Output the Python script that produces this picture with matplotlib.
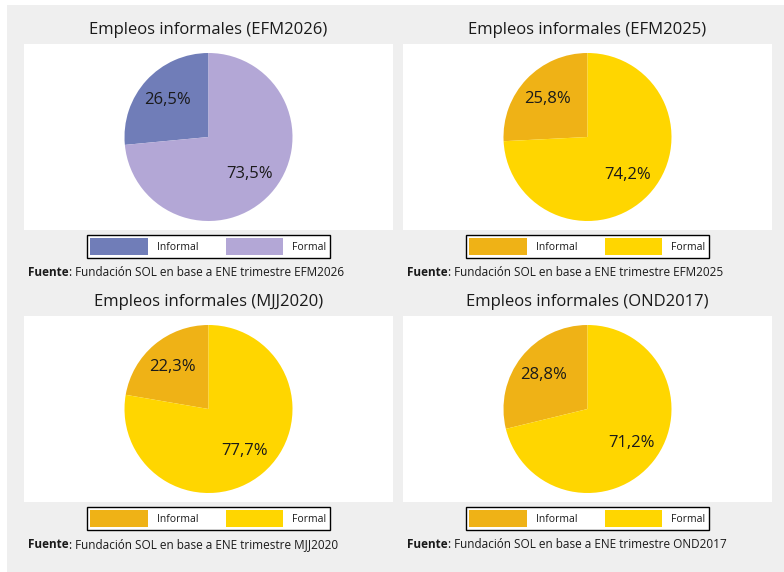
import matplotlib
matplotlib.use("Agg")
import matplotlib.pyplot as plt
from matplotlib.patches import Rectangle, Patch

plt.rcParams['font.family'] = ['Open Sans', 'DejaVu Sans']

# data
periods = ["EFM2026", "EFM2025", "MJJ2020", "OND2017"]
categories = ["Informal", "Formal"]
informal = [26.5, 25.8, 22.3, 28.8]
formal = [73.5, 74.2, 77.7, 71.2]

purple = ["#707db8", "#b3a7d6"]
yellow = ["#efb216", "#ffd600"]
palettes = [purple, yellow, yellow, yellow]

W, H = 784, 572
fig = plt.figure(figsize=(W / 100, H / 100), dpi=100)
fig.patch.set_facecolor("white")

# gray background block
fig.patches.append(Rectangle((7 / W, 0), 1 - 7 / W, 1 - 5 / H, transform=fig.transFigure,
                             facecolor="#efefef", edgecolor="none", zorder=-10))

# panel boxes in pixels (left, top)
lefts = [24, 403, 24, 403]
tops = [44, 44, 316, 316]
pw, ph = 369, 186
radius_px = 84


def fmt_pct(p):
    return f"{p:.1f}".replace(".", ",") + "%"


for i, per in enumerate(periods):
    left, top = lefts[i], tops[i]
    ax = fig.add_axes([left / W, 1 - (top + ph) / H, pw / W, ph / H])
    vals = [informal[i], formal[i]]
    cols = palettes[i]
    ax.pie(vals, colors=cols, startangle=90, counterclock=True,
           autopct=fmt_pct, pctdistance=0.66,
           wedgeprops=dict(linewidth=0),
           textprops=dict(fontsize=12, color="#1a1a1a"))
    ax.set_xlim(-pw / 2 / radius_px, pw / 2 / radius_px)
    ax.set_ylim(-ph / 2 / radius_px, ph / 2 / radius_px)
    ax.set_aspect("auto")
    ax.set_frame_on(True)
    ax.patch.set_visible(True)
    ax.set_facecolor("white")
    ax.set_xticks([])
    ax.set_yticks([])
    for s in ax.spines.values():
        s.set_visible(False)

    cx = (left + pw / 2) / W
    # title
    fig.text(cx, 1 - (top - 14) / H, f"Empleos informales ({per})", ha="center", va="center",
             fontsize=12, color="#1a1a1a")

    # legend
    handles = [Patch(facecolor=c, edgecolor="none") for c in cols]
    leg = fig.legend(handles, categories, loc="center", ncol=2,
                     bbox_to_anchor=(cx, 1 - (top + ph + 16.5) / H),
                     fontsize=7.5, handlelength=5.5, handleheight=2.0,
                     handletextpad=0.9, columnspacing=2.6, borderpad=0.3,
                     fancybox=False, framealpha=1)
    leg.get_frame().set_edgecolor("black")
    leg.get_frame().set_linewidth(1.0)
    for t in leg.get_texts():
        t.set_color("#1a1a1a")

    # source
    src_y = 1 - (top + ph + 43) / H
    t1 = fig.text((left + 4) / W, src_y, "Fuente", fontsize=8.5, fontweight="bold",
                  ha="left", va="center", color="#1a1a1a")
    ax.annotate(f": Fundación SOL en base a ENE trimestre {per}", xy=(1, 0), xycoords=t1,
                va="bottom", ha="left", fontsize=8.5, color="#1a1a1a", annotation_clip=False)

fig.savefig("out.png", dpi=100, facecolor=fig.get_facecolor())
